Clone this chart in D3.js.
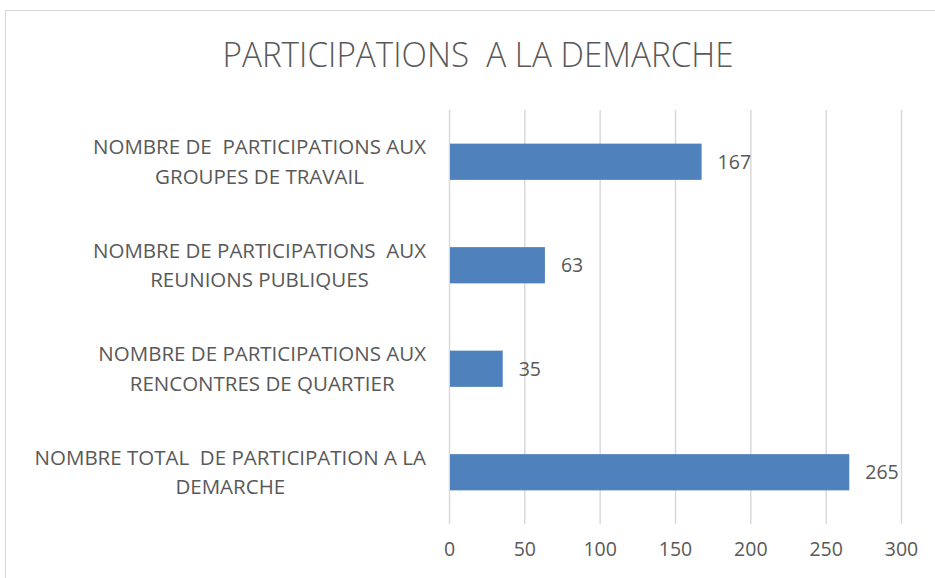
<!DOCTYPE html>
<html>
<head>
<meta charset="utf-8">
<script src="https://cdn.jsdelivr.net/npm/d3@7"></script>
<style>
  body { margin: 0; background: #fff; }
  text { font-family: "Open Sans", sans-serif; fill: #595959; white-space: pre; }
</style>
</head>
<body>
<svg id="chart" width="935" height="578"></svg>
<script>
// donnees du graphique
var categories = [
    ["NOMBRE DE  PARTICIPATIONS AUX", "GROUPES DE TRAVAIL"],
    ["NOMBRE DE PARTICIPATIONS  AUX", "REUNIONS PUBLIQUES"],
    ["NOMBRE DE PARTICIPATIONS AUX", "RENCONTRES DE QUARTIER"],
    ["NOMBRE TOTAL  DE PARTICIPATION A LA", "DEMARCHE"]
];
var values = [167, 63, 35, 265];
var ticks = [0, 50, 100, 150, 200, 250, 300];
var title = "PARTICIPATIONS  A LA DEMARCHE";

var svg = d3.select("#chart");
var margin = {left: 449, right: 34, top: 110, bottom: 54};
var width = 935, height = 578;

// cadre du graphique
svg.append("rect")
    .attr("x", 5.5).attr("y", 10.5)
    .attr("width", 940).attr("height", 580)
    .attr("fill", "none")
    .attr("stroke", "#d9d9d9");

var x = d3.scaleLinear()
    .domain([0, 300])
    .range([margin.left, width - margin.right]);

var y = d3.scaleBand()
    .domain(d3.range(categories.length))
    .range([margin.top, height - margin.bottom])
    .paddingInner(0.65)
    .paddingOuter(0.325);

// grille verticale
svg.append("g")
    .selectAll("line")
    .data(ticks)
    .enter().append("line")
    .attr("x1", function (d) { return x(d) + 0.5; })
    .attr("x2", function (d) { return x(d) + 0.5; })
    .attr("y1", margin.top)
    .attr("y2", height - margin.bottom)
    .attr("stroke", "#d9d9d9")
    .attr("stroke-width", 1.5);

// axe du bas
var xAxis = d3.axisBottom(x).tickValues(ticks).tickSize(0).tickPadding(18);
var gx = svg.append("g")
    .attr("transform", "translate(0," + (height - margin.bottom) + ")")
    .call(xAxis);
gx.select(".domain").remove();
gx.selectAll("text")
    .style("font-family", "\"Open Sans\", sans-serif")
    .style("font-size", "19.5px")
    .attr("fill", "#595959");

// barres
svg.append("g")
    .selectAll("rect")
    .data(values)
    .enter().append("rect")
    .attr("x", x(0) + 1)
    .attr("y", function (d, i) { return y(i); })
    .attr("width", function (d) { return x(d) - x(0); })
    .attr("height", y.bandwidth())
    .attr("fill", "#4f81bd");

// etiquettes de valeurs
svg.append("g")
    .selectAll("text")
    .data(values)
    .enter().append("text")
    .attr("x", function (d) { return x(d) + 17; })
    .attr("y", function (d, i) { return y(i) + y.bandwidth() / 2; })
    .attr("dy", "0.35em")
    .style("font-size", "19.5px")
    .attr("fill", "#404040")
    .text(function (d) { return d; });

// etiquettes des categories (texte centre, bloc aligne a droite)
var labelRight = 426;
categories.forEach(function (lines, i) {
    var g = svg.append("g");
    var cy = y(i) + y.bandwidth() / 2;
    var texts = lines.map(function (line, j) {
        return g.append("text")
            .attr("y", cy + (j - (lines.length - 1) / 2) * 29.5)
            .attr("dy", "0.35em")
            .attr("text-anchor", "middle")
            .style("font-size", "20.5px")
            .text(line);
    });
    var maxW = d3.max(texts, function (t) { return t.node().getComputedTextLength(); });
    texts.forEach(function (t) { t.attr("x", labelRight - maxW / 2); });
});

// titre
svg.append("text")
    .attr("x", 478)
    .attr("y", 67)
    .attr("text-anchor", "middle")
    .attr("textLength", 511)
    .attr("lengthAdjust", "spacingAndGlyphs")
    .style("font-size", "34px")
    .style("font-weight", "300")
    .text(title);
</script>
</body>
</html>
